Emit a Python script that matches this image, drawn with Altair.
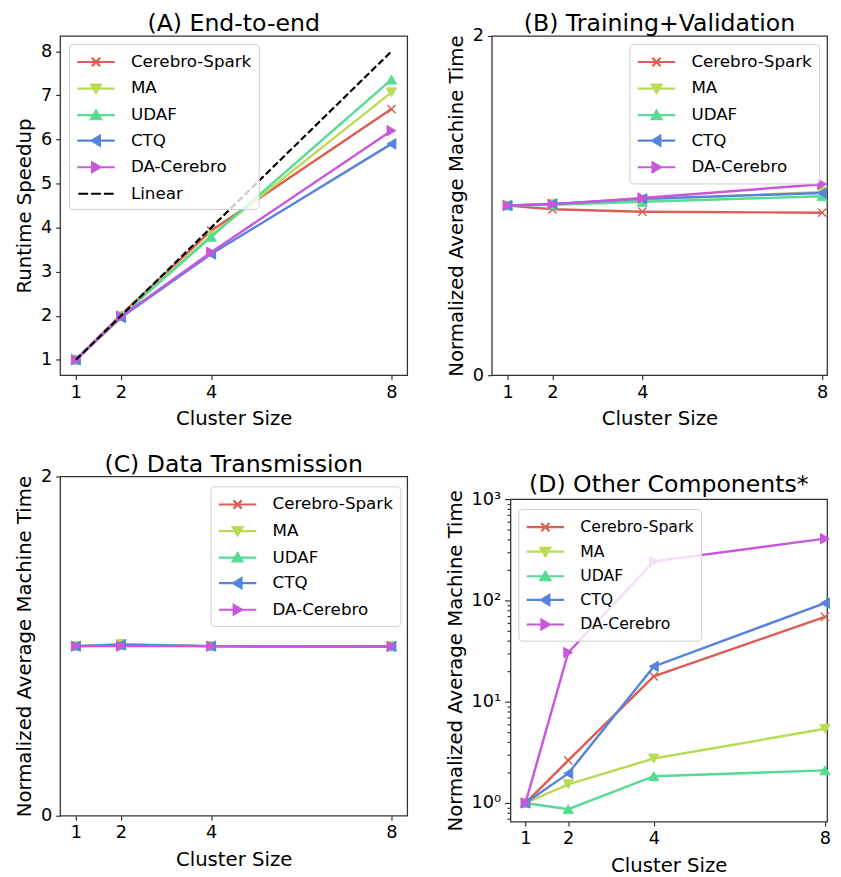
import altair as alt
import pandas as pd

FONT = "DejaVu Sans"

sizes = [1, 2, 4, 8]
series = ["Cerebro-Spark", "MA", "UDAF", "CTQ", "DA-Cerebro"]
colors = ["#db5f57", "#b9db57", "#57db94", "#5784db", "#c957db"]

# (A) End-to-end runtime speedup
a_cerebro_spark = [1, 2.02, 3.93, 6.69]
a_ma = [1, 1.99, 3.82, 7.07]
a_udaf = [1, 1.99, 3.79, 7.36]
a_ctq = [1, 1.96, 3.40, 5.90]
a_da_cerebro = [1, 1.98, 3.44, 6.20]
a_linear = [1, 2, 4, 8]

# (B) Training+Validation
b_cerebro_spark = [1, 0.978, 0.964, 0.958]
b_ma = [1, 1.010, 1.035, 1.080]
b_udaf = [1, 1.005, 1.022, 1.055]
b_ctq = [1, 1.010, 1.040, 1.074]
b_da_cerebro = [1, 1.007, 1.045, 1.126]

# (C) Data Transmission
c_cerebro_spark = [1, 1.005, 1.0, 0.998]
c_ma = [1, 1.012, 1.0, 1.0]
c_udaf = [1, 1.005, 1.0, 0.998]
c_ctq = [1, 1.008, 1.0, 0.998]
c_da_cerebro = [1, 1.0, 1.0, 0.998]

# (D) Other Components*
d_cerebro_spark = [1, 2.63, 17.8, 68.9]
d_ma = [1, 1.53, 2.75, 5.4]
d_udaf = [1, 0.87, 1.84, 2.1]
d_ctq = [1, 1.96, 22.3, 94]
d_da_cerebro = [1, 30.6, 243, 407]

x_path = "M-1,-1L1,1M-1,1L1,-1"
marker_shapes = [x_path, "triangle-down", "triangle-up", "triangle-left", "triangle-right"]
legend_paths = [
    "M-1.9,0H1.9M-0.42,-0.42L0.42,0.42M-0.42,0.42L0.42,-0.42",
    "M-1.9,0H1.9M-0.5,-0.4L0.5,-0.4L0,0.45Z",
    "M-1.9,0H1.9M-0.5,0.4L0.5,0.4L0,-0.45Z",
    "M-1.9,0H1.9M0.4,-0.5L0.4,0.5L-0.45,0Z",
    "M-1.9,0H1.9M-0.4,-0.5L-0.4,0.5L0.45,0Z",
]
linear_path = "M-1.8,0H-0.8M-0.5,0H0.5M0.8,0H1.8"

major_log = [1, 10, 100, 1000]
minor_log = [0.7, 0.8, 0.9] + [m * d for d in (1, 10, 100) for m in range(2, 10)]

INDEP = dict(fill="independent", stroke="independent", shape="independent")


def panel(title, vals, xdomain, ydomain, width, height, ytitle, legend_xy, title_offset,
          yticks=None, log=False, linear=None, label_size=17, row_pad=6):
    x = alt.X("size:Q",
              scale=alt.Scale(domain=xdomain, nice=False, zero=False),
              axis=alt.Axis(values=sizes, title="Cluster Size", format="d"))
    if log:
        yaxis = alt.Axis(
            values=major_log + minor_log, title=ytitle,
            labelExpr="datum.value == 1 ? '10⁰' : datum.value == 10 ? '10¹' : "
                      "datum.value == 100 ? '10²' : datum.value == 1000 ? '10³' : ''",
            tickSize={"condition": {"test": "indexof([1,10,100,1000], datum.value) >= 0",
                                    "value": 6}, "value": 3.5},
            labelPadding=4,
        )
        yscale = alt.Scale(type="log", domain=ydomain, nice=False)
    else:
        yaxis = alt.Axis(values=yticks, title=ytitle, format="d")
        yscale = alt.Scale(domain=ydomain, nice=False, zero=False)
    y = alt.Y("value:Q", scale=yscale, axis=yaxis)

    layers = []
    for name, color, shape in zip(series, colors, marker_shapes):
        df = pd.DataFrame({"size": sizes, "value": vals[name]})
        if shape == x_path:
            pt = alt.OverlayMarkDef(shape=shape, size=70, filled=False, stroke=color,
                                    strokeWidth=1.5, opacity=1)
        else:
            pt = alt.OverlayMarkDef(shape=shape, size=110, filled=True, fill=color,
                                    stroke=color, strokeWidth=1, opacity=1)
        layers.append(
            alt.Chart(df).mark_line(color=color, strokeWidth=2.5, point=pt)
            .encode(x=x, y=y)
        )
    leg_names = list(series)
    leg_colors = list(colors)
    leg_paths = list(legend_paths)
    if linear is not None:
        df = pd.DataFrame({"size": sizes, "value": linear})
        layers.append(
            alt.Chart(df).mark_line(color="black", strokeWidth=2.2, strokeDash=[7, 3])
            .encode(x=x, y=y)
        )
        leg_names.append("Linear")
        leg_colors.append("black")
        leg_paths.append(linear_path)

    leg = alt.Legend(
        title=None, fillColor="rgba(255,255,255,0.8)", strokeColor="#cccccc",
        cornerRadius=4, padding=7, rowPadding=row_pad, symbolSize=400,
        symbolStrokeWidth=2.2, labelFontSize=label_size, labelFont=FONT,
        labelColor="black", symbolOffset=9, labelOffset=24,
        orient="none", legendX=legend_xy[0], legendY=legend_xy[1],
    )
    legdf = pd.DataFrame({"lg": leg_names})
    dummy = (
        alt.Chart(legdf).transform_filter("false")
        .mark_point(filled=True, opacity=1, size=400)
        .encode(
            fill=alt.Fill("lg:N", scale=alt.Scale(domain=leg_names, range=leg_colors), legend=leg),
            stroke=alt.Stroke("lg:N", scale=alt.Scale(domain=leg_names, range=leg_colors), legend=leg),
            shape=alt.Shape("lg:N", scale=alt.Scale(domain=leg_names, range=leg_paths), legend=leg),
        )
    )
    layers.append(dummy)
    return alt.layer(*layers).properties(
        width=width, height=height,
        title=alt.Title(title, fontSize=24, font=FONT, fontWeight="normal", color="black",
                        frame="group", anchor="middle", offset=title_offset),
    )


A = panel("(A) End-to-end",
          dict(zip(series, [a_cerebro_spark, a_ma, a_udaf, a_ctq, a_da_cerebro])),
          [0.65, 8.35], [0.65, 8.35], 353, 345, "Runtime Speedup",
          (9, 8), 0, yticks=list(range(1, 9)), linear=a_linear)
B = panel("(B) Training+Validation",
          dict(zip(series, [b_cerebro_spark, b_ma, b_udaf, b_ctq, b_da_cerebro])),
          [0.65, 8.11], [0, 2], 341, 345, "Normalized Average Machine Time",
          (140, 8), -9, yticks=[0, 1, 2])
C = panel("(C) Data Transmission",
          dict(zip(series, [c_cerebro_spark, c_ma, c_udaf, c_ctq, c_da_cerebro])),
          [0.65, 8.35], [0, 2], 353, 345, "Normalized Average Machine Time",
          (153, 10), -9, yticks=[0, 1, 2])
D = panel("(D) Other Components*",
          dict(zip(series, [d_cerebro_spark, d_ma, d_udaf, d_ctq, d_da_cerebro])),
          [0.65, 8.05], [0.655, 1000], 322, 328, "Normalized Average Machine Time",
          (8, 10), -7, log=True, label_size=16, row_pad=4)

spacer = (
    alt.Chart(pd.DataFrame({"a": [0]}))
    .mark_rule(opacity=0, strokeWidth=0.5)
    .encode(x=alt.value(0), y=alt.value(0), y2=alt.value(1))
    .properties(width=1, height=1, view=alt.ViewBackground(strokeOpacity=0))
)

row1 = alt.hconcat(A, B, spacing=38).resolve_scale(**INDEP)
colD = alt.vconcat(spacer, D, spacing=-6).resolve_scale(**INDEP)
row2 = alt.hconcat(C, colD, spacing=37).resolve_scale(**INDEP)

chart = alt.vconcat(row1, row2, spacing=22).resolve_scale(**INDEP).properties(
    padding={"left": 6, "top": -4, "right": 0, "bottom": 0}
).configure_view(
    stroke="#333333", strokeWidth=1.3
).configure_axis(
    grid=False, domain=False, labelFont=FONT, titleFont=FONT, labelFontSize=18,
    titleFontSize=20, titleFontWeight="normal", labelColor="black", titleColor="black",
    tickColor="#333333", tickWidth=1.2, tickSize=4.5, labelPadding=4,
).configure_axisX(labelFlush=False, titlePadding=8).configure_axisY(titlePadding=6
).configure_legend(labelLimit=300)

chart.save("out.html", embed_options={"renderer": "svg", "actions": False})
